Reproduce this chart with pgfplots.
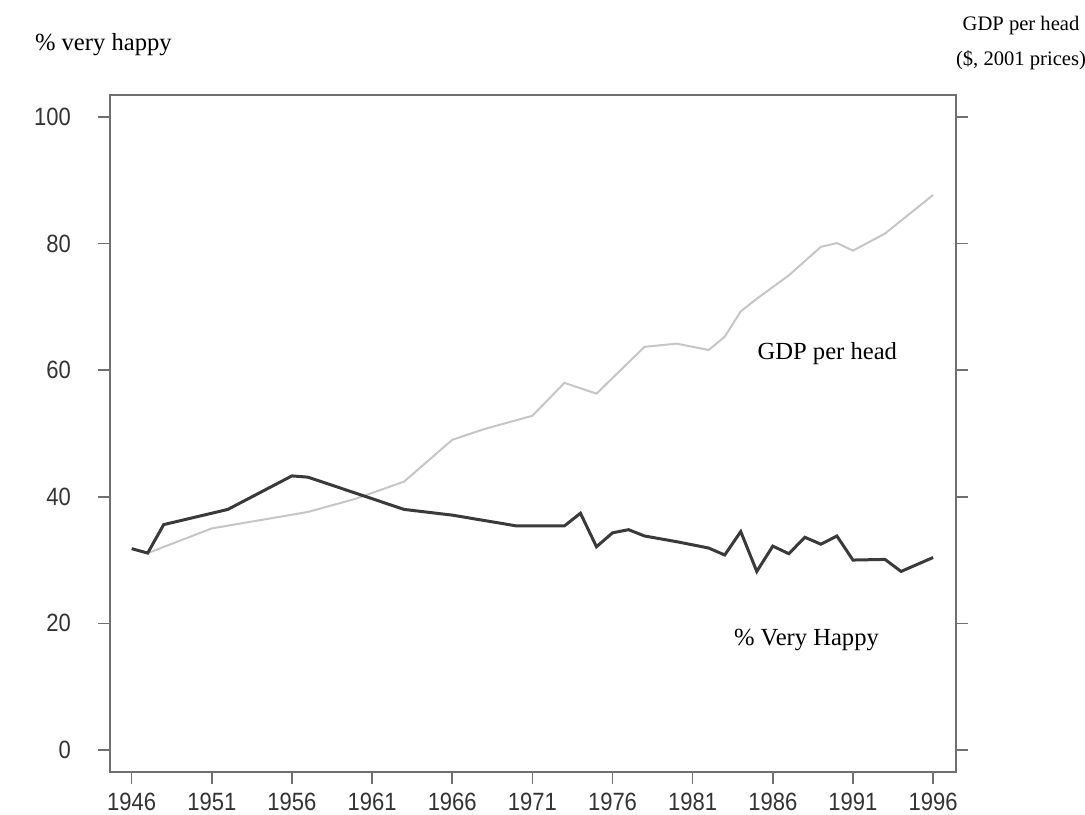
\documentclass[border=0pt]{standalone}
\usepackage{fontspec}
\setmainfont{Liberation Serif}
\newfontfamily\ticksf[FakeStretch=0.88]{Liberation Sans}
\usepackage{pgfplots}
\pgfplotsset{compat=1.18}

\definecolor{framegray}{HTML}{707070}
\definecolor{happyline}{HTML}{3A3A3A}
\definecolor{gdpline}{HTML}{C6C6C6}
\definecolor{ticktext}{HTML}{333333}

% % very happy (dark line)
\pgfplotstableread{
year value
1946 31.8
1947 31.1
1948 35.6
1952 38.0
1956 43.3
1957 43.1
1963 38.0
1966 37.1
1970 35.4
1973 35.4
1974 37.4
1975 32.1
1976 34.3
1977 34.8
1978 33.8
1980 32.9
1982 31.9
1983 30.8
1984 34.5
1985 28.2
1986 32.2
1987 31.0
1988 33.6
1989 32.5
1990 33.8
1991 30.0
1993 30.1
1994 28.2
1996 30.4
}\happy

% GDP per head (light line)
\pgfplotstableread{
year value
1947 31.1
1951 35.0
1957 37.6
1960 39.7
1963 42.4
1966 49.0
1968 50.7
1971 52.8
1973 58.0
1975 56.3
1978 63.7
1980 64.2
1982 63.2
1983 65.3
1984 69.3
1985 71.3
1987 75.0
1989 79.5
1990 80.1
1991 78.9
1993 81.6
1996 87.7
}\gdp

\begin{document}
\begin{tikzpicture}
\path[use as bounding box] (-55pt,-21pt) rectangle (487.5pt,386pt);
\begin{axis}[
    at={(0pt,0pt)}, anchor=south west,
    scale only axis,
    width=423pt, height=338.5pt,
    xmin=1944.65, xmax=1997.43,
    ymin=-3.5, ymax=103.5,
    xtick={1946,1951,...,1996},
    ytick={0,20,...,100},
    xtick pos=bottom,
    ytick pos=both,
    yticklabel pos=left,
    tick align=outside,
    major tick length=6pt,
    axis line style={framegray, line width=0.9pt},
    major tick style={framegray, line width=0.8pt},
    tick label style={font=\fontsize{12.5}{14}\ticksf, text=ticktext,
        /pgf/number format/assume math mode=true},
    xticklabel style={/pgf/number format/1000 sep={}, yshift=-1pt},
    yticklabel style={xshift=-10pt},
    clip=false,
]
  \addplot[gdpline, line width=1pt] table[x=year, y=value] {\gdp};
  \addplot[happyline, line width=1.5pt] table[x=year, y=value] {\happy};

  \node[font=\fontsize{12.3}{14}\selectfont] at (axis cs:1989.4,62.7) {GDP per head};
  \node[font=\fontsize{12.3}{14}\selectfont] at (axis cs:1988.1,17.4) {\% Very Happy};
\end{axis}
\node[anchor=west, font=\fontsize{12.3}{14}\selectfont] at (-41pt,363.5pt) {\% very happy};
\node[align=center, font=\fontsize{10.3}{17.5}\selectfont] at (455.5pt,364.5pt) {GDP per head\\(\$, 2001 prices)};
\end{tikzpicture}
\end{document}
